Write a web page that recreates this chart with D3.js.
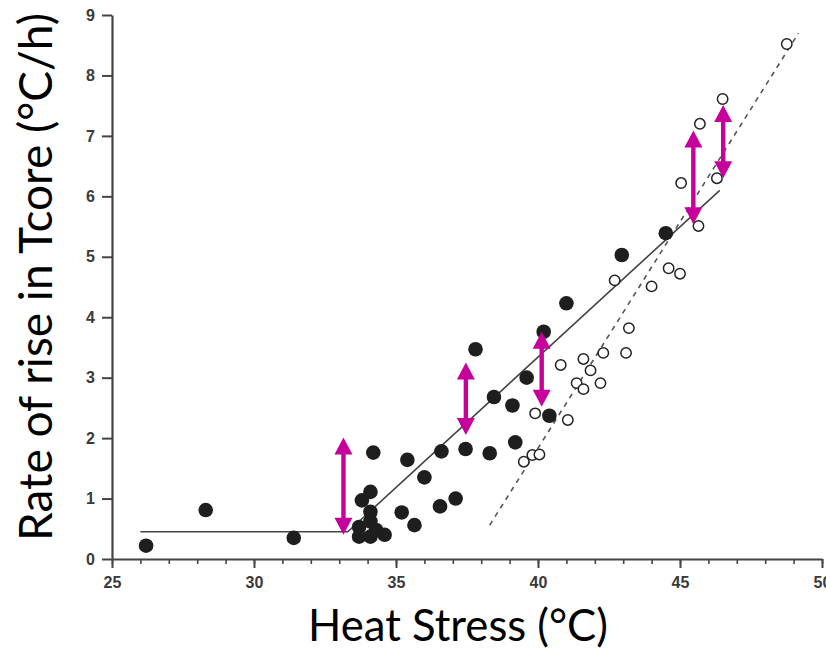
<!DOCTYPE html>
<html><head><meta charset="utf-8">
<script src="https://cdn.jsdelivr.net/npm/d3@7"></script>
<style>
html,body{margin:0;padding:0;background:#fff;}
svg{display:block;}
</style></head>
<body>
<svg id="chart" width="826" height="658"></svg>
<script>
// ---- data ----
const xTicks = [25, 30, 35, 40, 45, 50];
const yTicks = [0, 1, 2, 3, 4, 5, 6, 7, 8, 9];

// filled circles (heat stress °C, rate °C/h)
const filledX = [26.2, 28.3, 31.4, 34.2, 35.4, 36.0, 33.8, 34.1, 34.1, 35.2, 35.65, 33.7, 34.1, 33.7, 34.1, 34.6, 34.3,
                 36.55, 37.1, 36.6, 37.45, 38.3, 39.2, 38.45, 39.1, 37.8, 39.6, 40.2, 40.4, 41.0, 42.95, 44.5];
const filledY = [0.22, 0.81, 0.35, 1.76, 1.64, 1.35, 0.97, 1.11, 0.78, 0.77, 0.56, 0.53, 0.62, 0.37, 0.37, 0.40, 0.48,
                 0.87, 1.0, 1.78, 1.82, 1.75, 1.93, 2.68, 2.54, 3.47, 3.0, 3.76, 2.37, 4.23, 5.03, 5.39];

// open circles
const openX = [39.9, 41.05, 39.5, 39.8, 40.05, 40.8, 41.36, 41.6, 41.6, 41.85, 42.2, 42.3, 43.1, 43.2, 42.7, 44.0,
               44.6, 45.0, 45.65, 45.04, 45.7, 46.3, 46.5, 48.76];
const openY = [2.41, 2.30, 1.61, 1.72, 1.73, 3.21, 2.91, 2.81, 3.31, 3.12, 2.91, 3.41, 3.41, 3.82, 4.61, 4.51,
               4.81, 4.72, 5.51, 6.22, 7.2, 6.3, 7.61, 8.52];

// fitted lines
const solidLineX = [26.0, 33.3, 46.4];
const solidLineY = [0.45, 0.45, 6.1];
const dashedLineX = [38.3, 49.17];
const dashedLineY = [0.56, 8.70];

// magenta double arrows
const arrowX  = [33.15, 37.46, 40.13, 45.47, 46.52];
const arrowY1 = [2.01, 3.25, 3.76, 7.09, 7.51];
const arrowY2 = [0.40, 2.05, 2.52, 5.54, 6.30];

const xTitle = "Heat Stress (°C)";
const yTitle = "Rate of rise in Tcore (°C/h)";

// ---- drawing ----
const svg = d3.select("#chart");
const x = d3.scaleLinear().domain([25, 50]).range([112, 822]);
const y = d3.scaleLinear().domain([0, 9]).range([559, 15]);
const axisColor = "#444";
const labelFont = "'Liberation Sans', Arial, sans-serif";

// x axis: minor ticks
const gxMinor = svg.append("g").attr("transform", `translate(0,${y(0)})`)
  .call(d3.axisBottom(x).tickValues(d3.range(25, 51, 1)).tickSize(5).tickFormat(""));
gxMinor.select(".domain").remove();
gxMinor.selectAll("line").attr("stroke", axisColor).attr("stroke-width", 1.6);

const gx = svg.append("g").attr("transform", `translate(0,${y(0)})`)
  .call(d3.axisBottom(x).tickValues(xTicks).tickSize(9).tickSizeOuter(0).tickPadding(9).tickFormat(d3.format("d")));
gx.select(".domain").attr("stroke", axisColor).attr("stroke-width", 2.2);
gx.selectAll("line").attr("stroke", axisColor).attr("stroke-width", 2);
gx.selectAll("text").attr("font-family", labelFont).attr("font-weight", "bold")
  .attr("font-size", 16).attr("fill", "#3a3a3a");

const gy = svg.append("g").attr("transform", `translate(${x(25)},0)`)
  .call(d3.axisLeft(y).tickValues(yTicks).tickSize(10).tickSizeOuter(0).tickPadding(7).tickFormat(d3.format("d")));
gy.select(".domain").attr("stroke", axisColor).attr("stroke-width", 2.2);
gy.selectAll("line").attr("stroke", axisColor).attr("stroke-width", 2);
gy.selectAll("text").attr("font-family", labelFont).attr("font-weight", "bold")
  .attr("font-size", 16).attr("fill", "#3a3a3a");

// lines
const line = d3.line().x(d => x(d[0])).y(d => y(d[1]));
svg.append("path").datum(solidLineX.map((v, i) => [v, solidLineY[i]]))
  .attr("d", line).attr("fill", "none").attr("stroke", "#444").attr("stroke-width", 1.6);
svg.append("path").datum(dashedLineX.map((v, i) => [v, dashedLineY[i]]))
  .attr("d", line).attr("fill", "none").attr("stroke", "#555").attr("stroke-width", 1.6)
  .attr("stroke-dasharray", "5,5");

// points
svg.append("g").selectAll("circle").data(openX.map((v, i) => [v, openY[i]])).join("circle")
  .attr("cx", d => x(d[0])).attr("cy", d => y(d[1])).attr("r", 5.2)
  .attr("fill", "white").attr("stroke", "#222").attr("stroke-width", 1.5);
svg.append("g").selectAll("circle").data(filledX.map((v, i) => [v, filledY[i]])).join("circle")
  .attr("cx", d => x(d[0])).attr("cy", d => y(d[1])).attr("r", 7.3)
  .attr("fill", "#1e1e1e");

// arrows
const magenta = "#c8009b";
const headH = 17, headW = 9, shaft = 2.2;
svg.append("g").selectAll("path").data(arrowX.map((v, i) => [v, arrowY1[i], arrowY2[i]])).join("path")
  .attr("fill", magenta)
  .attr("d", d => {
    const cx = x(d[0]), t = y(d[1]), b = y(d[2]);
    return `M${cx},${t} L${cx + headW},${t + headH} L${cx + shaft},${t + headH} L${cx + shaft},${b - headH}
            L${cx + headW},${b - headH} L${cx},${b} L${cx - headW},${b - headH} L${cx - shaft},${b - headH}
            L${cx - shaft},${t + headH} L${cx - headW},${t + headH} Z`;
  });

// titles, sized to fit target lengths
const titleFont = "Lato, 'Open Sans', sans-serif";
function fitText(sel, target) {
  sel.attr("font-size", 100);
  const w = sel.node().getComputedTextLength();
  sel.attr("font-size", 100 * target / w);
}
const xt = svg.append("text").attr("x", 458).attr("y", 641).attr("text-anchor", "middle")
  .attr("font-family", titleFont).attr("fill", "#000").text(xTitle);
fitText(xt, 300);
const yt = svg.append("text").attr("transform", "translate(52,277) rotate(-90)").attr("text-anchor", "middle")
  .attr("font-family", titleFont).attr("fill", "#000").text(yTitle);
fitText(yt, 528);
</script>
</body></html>
